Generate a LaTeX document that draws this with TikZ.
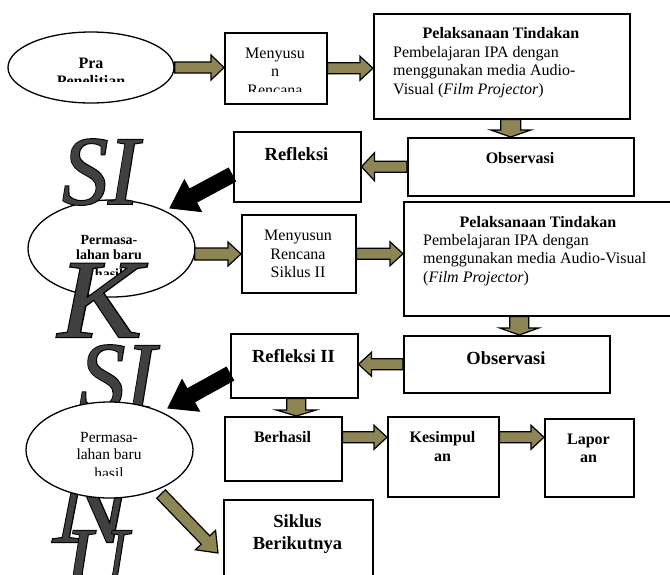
\documentclass[tikz,border=0pt]{standalone}
\usepackage{fontspec}
\setmainfont{Liberation Serif}
\newfontfamily\wafill{Liberation Serif Italic}
\newfontfamily\waline[FakeBold=2]{Liberation Serif Italic}
\usetikzlibrary{calc,shapes.geometric}
\definecolor{olivebr}{RGB}{141,133,83}
\definecolor{wagray}{RGB}{64,64,64}
\newcommand\tsz[2]{\fontsize{#1}{#2}\selectfont}
\newcommand\blockarr[6][oarrow]{%
  \coordinate (ba-s) at (#2);
  \coordinate (ba-e) at (#3);
  \coordinate (ba-h) at ($(ba-e)!#6!(ba-s)$);
  \draw[#1] ($(ba-s)!#4!90:(ba-e)$) -- ($(ba-h)!#4!90:(ba-e)$) -- ($(ba-h)!#5!90:(ba-e)$) -- (ba-e) -- ($(ba-h)!#5!-90:(ba-e)$) -- ($(ba-h)!#4!-90:(ba-e)$) -- ($(ba-s)!#4!-90:(ba-e)$) -- cycle;
}
\newcommand\bigletter[6]{%
  \node[wa, font=\waline\tsz{#4}{#4}, text=black] (#1-o) at (#2,#3) {\scalebox{#5}[1]{#6}};
  \node[wa, font=\wafill\tsz{#4}{#4}, text=wagray] (#1) at (#2,#3) {\scalebox{#5}[1]{#6}};
}
\begin{document}
\begin{tikzpicture}[x=1pt,y=-1pt,
  box/.style={draw, line width=1.5pt, fill=white, inner sep=0pt, anchor=north west},
  oval/.style={draw, line width=1.3pt, fill=white, ellipse, inner sep=0pt},
  t/.style={inner sep=0pt, anchor=base},
  tl/.style={inner sep=0pt, anchor=base west},
  oarrow/.style={draw=black, line width=1.2pt, fill=olivebr, line join=miter},
  karrow/.style={draw=black, line width=1pt, fill=black, line join=miter},
  wa/.style={inner sep=0pt, anchor=base west},
  r16/.style={font=\tsz{16}{18}},
  b16/.style={font=\bfseries\tsz{16}{18}},
  b18/.style={font=\bfseries\tsz{18.5}{20}},
  eb/.style={font=\bfseries\tsz{14}{15}},
  er/.style={font=\tsz{15.5}{17}},
]
\useasboundingbox (0,0) rectangle (670,574);
\fill[white] (0,0) rectangle (670,574);

% letters below the third ellipse
\bigletter{l-s2}{79}{410}{98}{0.94}{SI}
\bigletter{l-n}{53}{542}{105}{1.1}{N}
\bigletter{l-u}{65}{593}{95}{0.9}{U}

% ellipses
\node[oval, minimum width=166pt, minimum height=71pt] (pra) at (91,67.5) {};
\node[t,b16] (pra-t1) at (91,68) {Pra};
\begin{scope}
  \clip (0,0) rectangle (220,81.5);
  \node[t,b16] (pra-t2) at (91,86.5) {Penelitian};
\end{scope}

\node[oval, minimum width=167pt, minimum height=97pt] (e2) at (111.5,248.5) {};
\node[t,eb] (e2-t1) at (109,244) {Permasa-};
\node[t,eb] (e2-t2) at (109,259.5) {lahan baru};
\begin{scope}
  \clip (0,0) rectangle (220,274);
  \node[t,eb] (e2-t3) at (109,278) {hasil};
\end{scope}

\node[oval, minimum width=167pt, minimum height=96pt] (e3) at (109.5,450) {};
\node[t,er] (e3-t1) at (109,442) {Permasa-};
\node[t,er] (e3-t2) at (109,459.5) {lahan baru};
\begin{scope}
  \clip (0,300) rectangle (220,475);
  \node[t,er] (e3-t3) at (109,478.5) {hasil};
\end{scope}

% letters above the second ellipse
\bigletter{l-s1}{62}{204}{98}{0.94}{SI}
\bigletter{l-k}{58}{337}{112}{1.12}{K}

% boxes
\node[box, minimum width=102pt, minimum height=71pt] (m1) at (224,32) {};
\node[t,r16] (m1-t1) at (275,58) {Menyusu};
\node[t,r16] (m1-t2) at (275,76.5) {n};
\begin{scope}
  \clip (224,32) rectangle (326,91.5);
  \node[t,r16] (m1-t3) at (275,95) {Rencana};
\end{scope}

\node[box, minimum width=256pt, minimum height=105pt] (pel1) at (373,13) {};
\node[t,b16] (pel1-t0) at (501,38) {Pelaksanaan Tindakan};
\node[tl,r16] (pel1-t1) at (393,57) {Pembelajaran IPA dengan};
\node[tl,r16] (pel1-t2) at (393,75.5) {menggunakan media Audio-};
\node[tl,r16] (pel1-t3) at (393,94) {Visual (\textit{Film Projector})};

\node[box, minimum width=226pt, minimum height=58pt] (obs1) at (407,137) {};
\node[t,b16] (obs1-t) at (520,163) {Observasi};

\node[box, minimum width=127pt, minimum height=70pt] (refl1) at (233,131) {};
\node[t,b18] (refl1-t) at (296.5,160) {Refleksi};

\node[box, minimum width=114pt, minimum height=78pt] (m2) at (241,214) {};
\node[t,r16] (m2-t1) at (298,240.5) {Menyusun};
\node[t,r16] (m2-t2) at (298,259) {Rencana};
\node[t,r16] (m2-t3) at (298,277) {Siklus II};

\node[box, minimum width=290pt, minimum height=114pt] (pel2) at (403,201) {};
\node[t,b16] (pel2-t0) at (538,227) {Pelaksanaan Tindakan};
\node[tl,r16] (pel2-t1) at (423,245) {Pembelajaran IPA dengan};
\node[tl,r16] (pel2-t2) at (423,263.5) {menggunakan media Audio-Visual};
\node[tl,r16] (pel2-t3) at (423,282) {(\textit{Film Projector})};

\node[box, minimum width=206pt, minimum height=57pt] (obs2) at (403,335) {};
\node[t,b18] (obs2-t) at (506,364) {Observasi};

\node[box, minimum width=127pt, minimum height=64pt] (refl2) at (230,333) {};
\node[t,b18] (refl2-t) at (293.5,362) {Refleksi II};

\node[box, minimum width=117pt, minimum height=64pt] (ber) at (224,416) {};
\node[t,b16] (ber-t) at (282.5,442) {Berhasil};

\node[box, minimum width=111pt, minimum height=80pt] (kes) at (387,416) {};
\node[t,b16] (kes-t1) at (442.5,442) {Kesimpul};
\node[t,b16] (kes-t2) at (442.5,461) {an};

\node[box, minimum width=89pt, minimum height=78pt] (lap) at (544,418) {};
\node[t,b16] (lap-t1) at (588.5,444) {Lapor};
\node[t,b16] (lap-t2) at (588.5,462) {an};

\node[box, minimum width=149pt, minimum height=100pt] (sik) at (223,499) {};
\node[t,b18] (sik-t1) at (297.5,527) {Siklus};
\node[t,b18] (sik-t2) at (297.5,549) {Berikutnya};

% arrows
\blockarr{pra.east}{pra.east -| m1.west}{5.5pt}{12.5pt}{13pt}
\blockarr{m1.east}{m1.east -| pel1.west}{5.5pt}{12pt}{13pt}
\coordinate (a3s) at ($(pel1.south)+(9,0)$);
\coordinate (a3e) at (a3s |- obs1.north);
\blockarr{a3s}{a3e}{10pt}{20pt}{7pt}
\blockarr{obs1.west}{obs1.west -| refl1.east}{5.5pt}{14pt}{13pt}
\coordinate (b1s) at ($(refl1.west)+(-1,8)$);
\coordinate (b1e) at (170,208);
\blockarr[karrow]{b1s}{b1e}{7.5pt}{18pt}{26pt}
\coordinate (a5s) at ($(e2.east)+(-1,5.5)$);
\coordinate (a5e) at (a5s -| m2.west);
\blockarr{a5s}{a5e}{6pt}{12pt}{13pt}
\blockarr{m2.east}{m2.east -| pel2.west}{5.5pt}{12pt}{13pt}
\coordinate (a7e) at ($(obs2.north)+(12.5,0)$);
\coordinate (a7s) at (a7e |- pel2.south);
\blockarr{a7s}{a7e}{9.5pt}{19.5pt}{7pt}
\blockarr{obs2.west}{obs2.west -| refl2.east}{5.5pt}{12pt}{13pt}
\coordinate (b2s) at ($(refl2.west)+(0,8)$);
\coordinate (b2e) at (168,408);
\blockarr[karrow]{b2s}{b2e}{7.5pt}{18pt}{26pt}
\coordinate (a9s) at ($(refl2.south)+(2,0)$);
\coordinate (a9e) at (a9s |- ber.north);
\blockarr{a9s}{a9e}{9.5pt}{20pt}{6pt}
\coordinate (a10s) at ($(ber.east)+(0,-11.5)$);
\coordinate (a10e) at (a10s -| kes.west);
\blockarr{a10s}{a10e}{5.5pt}{12pt}{13pt}
\coordinate (a11s) at (a10s -| kes.east);
\coordinate (a11e) at (a10s -| lap.west);
\blockarr{a11s}{a11e}{5.5pt}{12pt}{13pt}
\coordinate (a12s) at (161,494);
\coordinate (a12e) at (218,553);
\blockarr{a12s}{a12e}{6pt}{14pt}{18pt}
\end{tikzpicture}
\end{document}
